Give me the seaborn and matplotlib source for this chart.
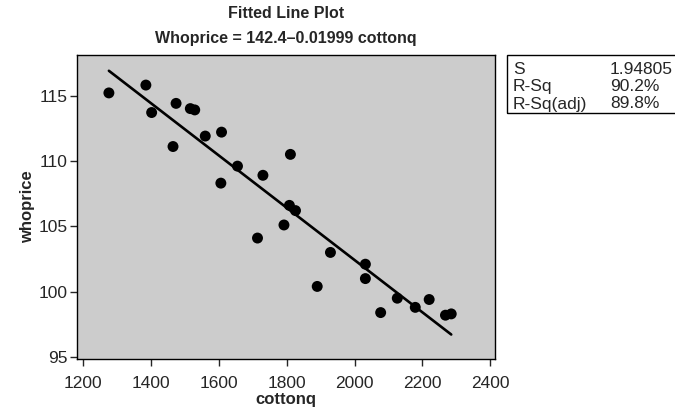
import matplotlib
matplotlib.use("Agg")
import matplotlib.pyplot as plt
import seaborn as sns
import numpy as np
import pandas as pd
from matplotlib.patches import Rectangle

cottonq = [1276, 1385, 1402, 1474, 1465, 1516, 1529, 1560, 1608, 1606,
           1655, 1730, 1811, 1808, 1826, 1792, 1714, 1929, 2032, 2032,
           1890, 2126, 2077, 2179, 2220, 2268, 2285]
whoprice = [115.2, 115.8, 113.7, 114.4, 111.1, 114.0, 113.9, 111.9, 112.2, 108.3,
            109.6, 108.9, 110.5, 106.6, 106.2, 105.1, 104.1, 103.0, 102.1, 101.0,
            100.4, 99.5, 98.4, 98.8, 99.4, 98.2, 98.3]
intercept = 142.4
slope = -0.01999
stat_names = ["S", "R-Sq", "R-Sq(adj)"]
stat_values = ["1.94805", "90.2%", "89.8%"]
xticks = [1200, 1400, 1600, 1800, 2000, 2200, 2400]
yticks = [95, 100, 105, 110, 115]

sns.set_style("ticks")
plt.rcParams['font.family'] = ['Liberation Sans', 'DejaVu Sans']

df = pd.DataFrame({"cottonq": cottonq, "whoprice": whoprice})
xl = np.array([min(cottonq), max(cottonq)])
line_df = pd.DataFrame({"cottonq": xl, "whoprice": intercept + slope * xl})

fig = plt.figure(figsize=(6.75, 4.12), dpi=100)
ax = fig.add_axes([77/675, 1-359/412, (495-77)/675, (359-55)/412])
ax.set_facecolor("#cccccc")

sns.lineplot(data=line_df, x="cottonq", y="whoprice", ax=ax, color="black", linewidth=1.9)
sns.scatterplot(data=df, x="cottonq", y="whoprice", ax=ax, color="black", s=62,
                edgecolor="none", zorder=3)

ax.set_xlim(1182, 2414)
ax.set_ylim(94.85, 118.1)
ax.set_xticks(xticks)
ax.set_yticks(yticks)
ax.tick_params(axis="both", labelsize=12.5, length=5, width=1, direction="out")
ax.tick_params(axis="x", pad=7)
ax.tick_params(axis="y", pad=2)
for s in ax.spines.values():
    s.set_visible(True)
    s.set_linewidth(1)
    s.set_color("black")
ax.set_xlabel("cottonq", fontsize=12, fontweight="bold", labelpad=1)
ax.set_ylabel("whoprice", fontsize=12, fontweight="bold", labelpad=2)

fig.text(286/675, 1-14/412, "Fitted Line Plot", ha="center", va="center",
         fontsize=11.5, fontweight="bold",
         family=['Liberation Sans Narrow', 'Liberation Sans', 'DejaVu Sans'])
fig.text(286/675, 1-38/412, "Whoprice = 142.4\u20130.01999 cottonq", ha="center", va="center",
         fontsize=11.5, fontweight="bold",
         family=['Liberation Sans Narrow', 'Liberation Sans', 'DejaVu Sans'])

fig.patches.append(Rectangle((507/675, 1-113/412), (700-507)/675, (113-55)/412,
                             transform=fig.transFigure, fill=False,
                             edgecolor="black", linewidth=1))
for i, (n, v) in enumerate(zip(stat_names, stat_values)):
    yy = 1 - (69 + i*17.5)/412
    fig.text(513/675, yy, n, ha="left", va="center", fontsize=12.5)
    fig.text(610/675, yy, v, ha="left", va="center", fontsize=12.5)

fig.savefig("out.png", dpi=100)
